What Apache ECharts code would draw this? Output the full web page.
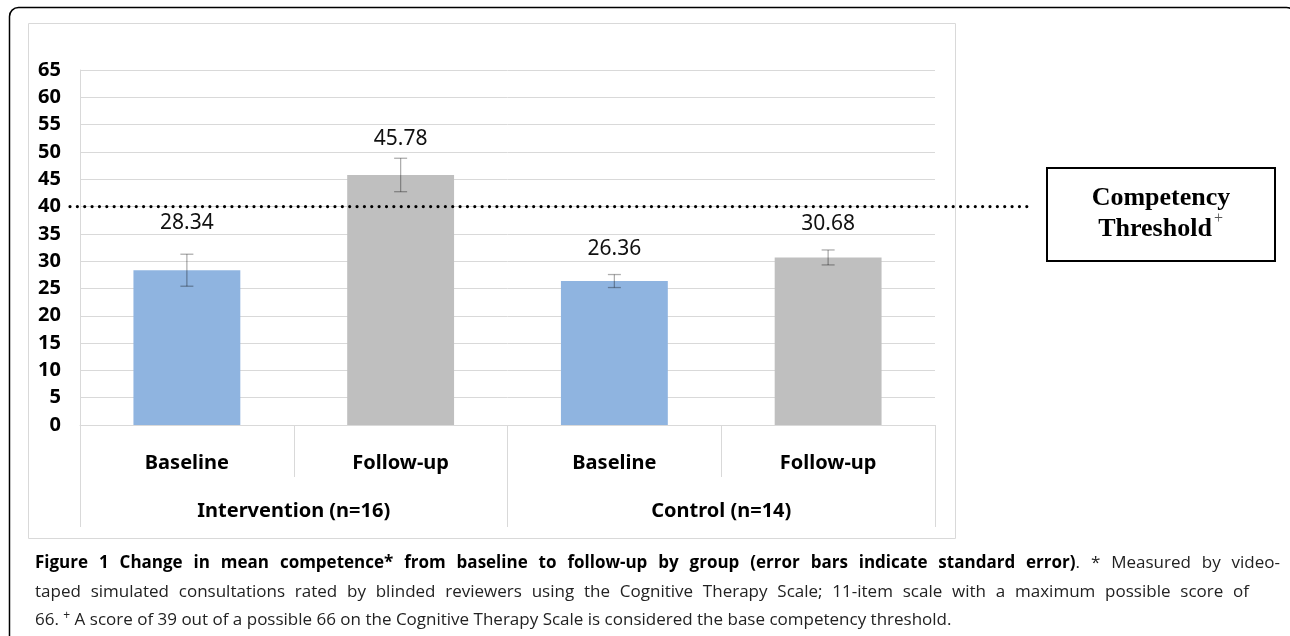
<!DOCTYPE html>
<html><head><meta charset="utf-8">
<script src="https://cdn.jsdelivr.net/npm/echarts@6/dist/echarts.min.js"></script>
<style>
html,body{margin:0;padding:0;background:#fff;}
#wrap{position:relative;width:1290px;height:636px;overflow:hidden;}
#chart{position:absolute;left:0;top:0;width:1290px;height:636px;}
.cap{position:absolute;left:35px;font-family:"Open Sans",sans-serif;font-size:17px;color:#222;line-height:22px;white-space:nowrap;}
.just{text-align:justify;text-align-last:justify;white-space:normal;}
.cap b{color:#000;font-weight:700;}
.cap sup{font-size:12px;vertical-align:6px;line-height:0;}
</style></head>
<body><div id="wrap"><div id="chart"></div>
<div class="cap just" style="top:551px;width:1245px"><b>Figure 1 Change in mean competence* from baseline to follow-up by group (error bars indicate standard error)</b>. * Measured by video-</div>
<div class="cap just" style="top:580px;width:1214px">taped simulated consultations rated by blinded reviewers using the Cognitive Therapy Scale; 11-item scale with a maximum possible score of</div>
<div class="cap" style="top:608px">66. <sup>+</sup> A score of 39 out of a possible 66 on the Cognitive Therapy Scale is considered the base competency threshold.</div>
</div>
<script>
const categories = ['Baseline', 'Follow-up', 'Baseline', 'Follow-up'];
const groups = ['Intervention (n=16)', 'Control (n=14)'];
const means = [28.34, 45.78, 26.36, 30.68];
const stdErrors = [2.93, 3.06, 1.19, 1.37];
const yMin = 0, yMax = 65, yStep = 5;
const threshold = 40;

// styling (not data)
const barColors = ['#8FB4E0', '#BFBFBF', '#8FB4E0', '#BFBFBF'];
const labelGap = [37, 25, 22, 23];

const chart = echarts.init(document.getElementById('chart'));
const axisFont = 'Noto Sans';

const barData = means.map((v, i) => ({
  value: v,
  itemStyle: { color: barColors[i] },
  label: { distance: labelGap[i] }
}));
const errData = means.map((v, i) => [i, v - stdErrors[i], v + stdErrors[i]]);

const option = {
  animation: false,
  grid: { left: 80, right: 355, top: 70, bottom: 211, containLabel: false },
  xAxis: [{
    type: 'category', data: categories, position: 'bottom',
    axisLine: { show: true, lineStyle: { color: '#D9D9D9', width: 1 } },
    axisTick: { show: true, interval: 0, length: 52, lineStyle: { color: '#D9D9D9' } },
    axisLabel: { interval: 0, margin: 28, color: '#000', fontFamily: axisFont, fontWeight: 'bold', fontSize: 20 },
    splitLine: { show: false }
  }, {
    type: 'category', data: groups, position: 'bottom', gridIndex: 0,
    axisLine: { show: false },
    axisTick: { show: true, interval: 0, length: 102, lineStyle: { color: '#D9D9D9' } },
    axisLabel: { interval: 0, margin: 76, color: '#000', fontFamily: axisFont, fontWeight: 'bold', fontSize: 20 },
    splitLine: { show: false }
  }],
  yAxis: {
    type: 'value', min: yMin, max: yMax, interval: yStep,
    axisLine: { show: true, lineStyle: { color: '#D9D9D9' } },
    axisTick: { show: false },
    axisLabel: { margin: 19, color: '#000', fontFamily: axisFont, fontWeight: 'bold', fontSize: 20 },
    splitLine: { show: true, lineStyle: { color: '#D9D9D9', width: 1 } }
  },
  series: [{
    type: 'bar', xAxisIndex: 0, data: barData, barWidth: '50%',
    label: { show: true, position: 'top', color: '#111', fontFamily: axisFont, fontSize: 21, formatter: p => p.value.toFixed(2) },
    z: 2
  }, {
    type: 'custom', xAxisIndex: 0, data: errData, z: 3,
    renderItem: function (params, api) {
      const x = api.value(0);
      const lo = api.coord([x, api.value(1)]);
      const hi = api.coord([x, api.value(2)]);
      const hw = 6.5;
      const st = { stroke: 'rgba(0,0,0,0.32)', lineWidth: 1.3 };
      return { type: 'group', children: [
        { type: 'line', shape: { x1: lo[0], y1: lo[1], x2: hi[0], y2: hi[1] }, style: st },
        { type: 'line', shape: { x1: lo[0] - hw, y1: lo[1], x2: lo[0] + hw, y2: lo[1] }, style: st },
        { type: 'line', shape: { x1: hi[0] - hw, y1: hi[1], x2: hi[0] + hw, y2: hi[1] }, style: st }
      ]};
    }
  }]
};
chart.setOption(option);

const yT = chart.convertToPixel({ yAxisIndex: 0 }, threshold);
chart.setOption({
  graphic: [
    { type: 'rect', shape: { x: 9.5, y: 7.5, width: 1286, height: 640, r: 9 }, style: { fill: 'none', stroke: '#000', lineWidth: 1.5 }, z: -10, silent: true },
    { type: 'rect', shape: { x: 28.5, y: 23.5, width: 927, height: 515 }, style: { fill: 'none', stroke: '#D9D9D9', lineWidth: 1 }, z: -9, silent: true },
    { type: 'line', shape: { x1: 70, y1: yT, x2: 1030, y2: yT }, style: { stroke: '#000', lineWidth: 3.2, lineCap: 'round', lineDash: [0.01, 7.35] }, z: 10, silent: true },
    { type: 'rect', shape: { x: 1047, y: 168, width: 228, height: 93 }, style: { fill: '#fff', stroke: '#000', lineWidth: 2 }, z: 10, silent: true },
    { type: 'text', x: 1161, y: 198, style: { text: 'Competency', fontFamily: 'Liberation Serif', fontWeight: 'bold', fontSize: 26, fill: '#000', align: 'center', verticalAlign: 'middle' }, z: 11 },
    { type: 'text', x: 1155, y: 229, style: { text: 'Threshold', fontFamily: 'Liberation Serif', fontWeight: 'bold', fontSize: 26, fill: '#000', align: 'center', verticalAlign: 'middle' }, z: 11 },
    { type: 'text', x: 1214, y: 219, style: { text: '+', fontFamily: 'Liberation Serif', fontSize: 16, fill: '#555', align: 'left', verticalAlign: 'middle' }, z: 11 }
  ]
});
</script>
</body></html>
